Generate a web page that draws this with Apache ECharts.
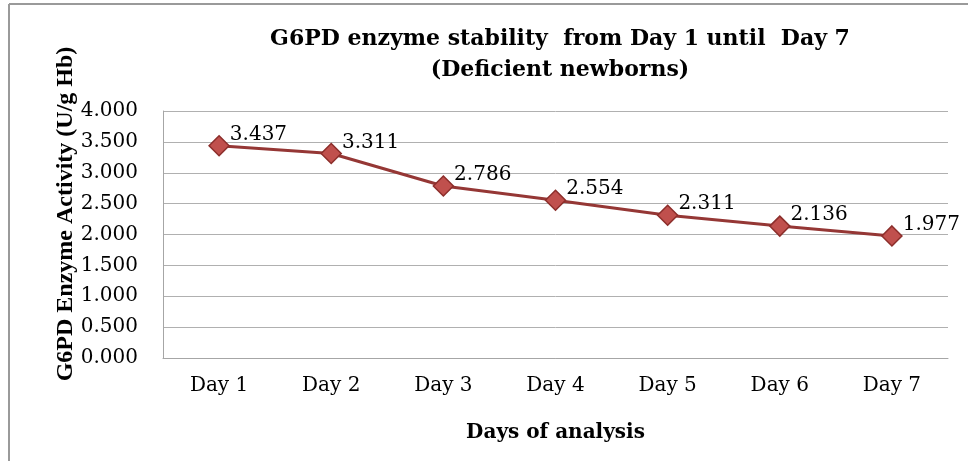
<!DOCTYPE html>
<html><head><meta charset="utf-8">
<script src="https://cdn.jsdelivr.net/npm/echarts@6/dist/echarts.min.js"></script>
<style>html,body{margin:0;padding:0;background:#fff}#c{width:968px;height:461px}</style>
</head><body><div id="c"></div>
<script>
const categories = ['Day 1','Day 2','Day 3','Day 4','Day 5','Day 6','Day 7'];
const activity = [3.437, 3.311, 2.786, 2.554, 2.311, 2.136, 1.977];
const yTicks = { min: 0, max: 4, interval: 0.5 };
const titleText = 'G6PD enzyme stability  from Day 1 until  Day 7\n(Deficient newborns)';
const yName = 'G6PD Enzyme Activity (U/g Hb)';
const xName = 'Days of analysis';

const WIDE = '"DejaVu Serif", serif';
const FONT = '"Liberation Serif", "Times New Roman", serif';
const chart = echarts.init(document.getElementById('c'), null, {renderer:'canvas'});
chart.setOption({
  animation: false,
  backgroundColor: '#fff',
  title: {
    text: titleText, left: 555, textAlign: 'center', top: 19,
    textStyle: { fontFamily: WIDE, fontWeight: 'bold', fontSize: 22, color: '#000', lineHeight: 31 }
  },
  graphic: [
    { type: 'line', shape: { x1: 9, y1: 4, x2: 9, y2: 461 }, style: { stroke: '#9a9a9a', lineWidth: 2 } },
    { type: 'line', shape: { x1: 9, y1: 4, x2: 968, y2: 4 }, style: { stroke: '#9a9a9a', lineWidth: 2 } },
    { type: 'text', x: 66, y: 214, rotation: Math.PI/2,
      style: { text: yName, fontFamily: FONT, fontWeight: 'bold', fontSize: 24, fill: '#000', align: 'center', verticalAlign: 'middle' } }
  ],
  grid: { left: 163, right: 20, top: 111, bottom: 103 },
  xAxis: {
    type: 'category', data: categories, boundaryGap: true,
    name: xName, nameLocation: 'middle', nameGap: 65,
    nameTextStyle: { fontFamily: WIDE, fontWeight: 'bold', fontSize: 20, color: '#000' },
    axisLine: { show: true, lineStyle: { color: '#a6a6a6', width: 1 } },
    axisTick: { show: false },
    axisLabel: { fontFamily: WIDE, fontSize: 20, color: '#000', margin: 18 }
  },
  yAxis: {
    type: 'value', min: yTicks.min, max: yTicks.max, interval: yTicks.interval,
    axisLine: { show: true, lineStyle: { color: '#a6a6a6', width: 1 } },
    axisTick: { show: false },
    splitLine: { lineStyle: { color: '#b0b0b0', width: 1 } },
    axisLabel: { fontFamily: WIDE, fontSize: 20, color: '#000', margin: 25,
      formatter: v => v.toFixed(3) }
  },
  series: [{
    type: 'line', data: activity,
    symbol: 'diamond', symbolSize: [20, 20],
    lineStyle: { color: '#953735', width: 3 },
    itemStyle: { color: '#C0504D', borderColor: '#8C2E2B', borderWidth: 1.5 },
    label: { show: true, position: 'right', distance: 0, offset: [0, -11],
      fontFamily: WIDE, fontSize: 20, color: '#000',
      formatter: p => p.value.toFixed(3) }
  }]
});
</script></body></html>
